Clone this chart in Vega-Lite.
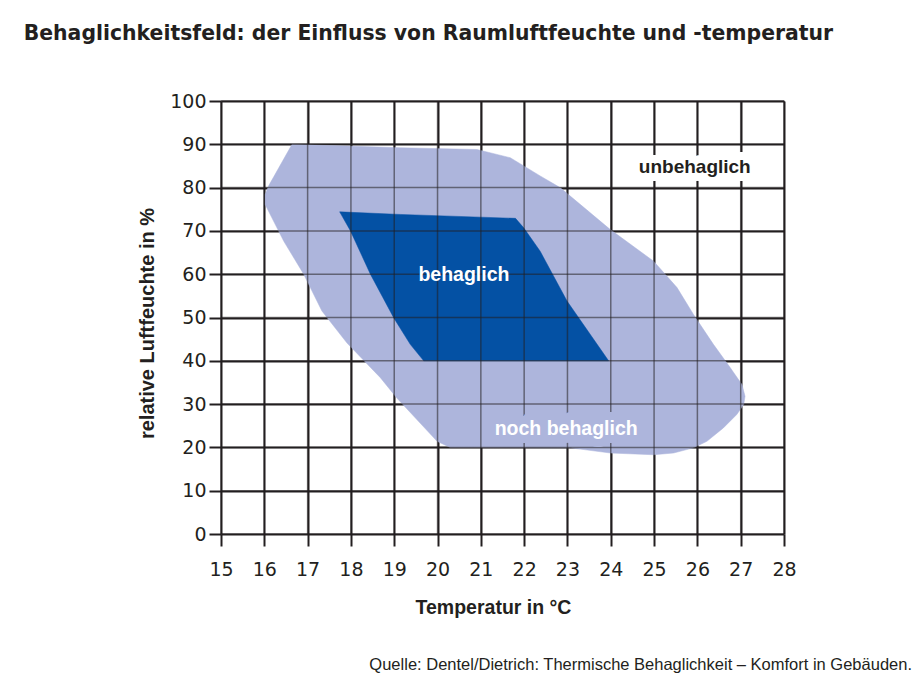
{
  "$schema": "https://vega.github.io/schema/vega-lite/v6.json",
  "background": "white",
  "padding": {"left": 23, "top": 23, "right": 0, "bottom": 0},
  "config": {"view": {"stroke": null}, "font": "Liberation Sans"},
  "title": {
    "text": "Behaglichkeitsfeld: der Einfluss von Raumluftfeuchte und -temperatur",
    "anchor": "start", "frame": "bounds", "dx": -114,
    "font": "DejaVu Sans", "fontSize": 20.4, "fontWeight": "bold", "color": "#231f20", "offset": 48
  },
  "datasets": {
    "noch": [
      {"i": 1, "t": 16.64, "h": 90.0}, {"i": 2, "t": 19.14, "h": 89.2}, {"i": 3, "t": 20.91, "h": 88.8},
      {"i": 4, "t": 21.68, "h": 86.9}, {"i": 5, "t": 22.37, "h": 82.7}, {"i": 6, "t": 22.83, "h": 80.0},
      {"i": 7, "t": 23.99, "h": 70.3}, {"i": 8, "t": 24.99, "h": 63.0}, {"i": 9, "t": 25.53, "h": 56.9},
      {"i": 10, "t": 25.91, "h": 50.7}, {"i": 11, "t": 26.37, "h": 43.8}, {"i": 12, "t": 26.76, "h": 38.4},
      {"i": 13, "t": 27.03, "h": 34.5}, {"i": 14, "t": 27.10, "h": 31.8}, {"i": 15, "t": 27.07, "h": 29.9},
      {"i": 16, "t": 26.91, "h": 27.6}, {"i": 17, "t": 26.60, "h": 24.5}, {"i": 18, "t": 26.22, "h": 21.4},
      {"i": 19, "t": 25.91, "h": 19.9}, {"i": 20, "t": 25.45, "h": 18.7}, {"i": 21, "t": 24.99, "h": 18.3},
      {"i": 22, "t": 23.99, "h": 18.7}, {"i": 23, "t": 23.07, "h": 19.9}, {"i": 24, "t": 20.29, "h": 20.0},
      {"i": 25, "t": 19.99, "h": 21.4}, {"i": 26, "t": 19.06, "h": 31.4}, {"i": 27, "t": 18.68, "h": 36.1},
      {"i": 28, "t": 17.91, "h": 44.1}, {"i": 29, "t": 17.33, "h": 51.5}, {"i": 30, "t": 16.91, "h": 60.0},
      {"i": 31, "t": 16.45, "h": 67.6}, {"i": 32, "t": 16.02, "h": 76.1}, {"i": 33, "t": 16.02, "h": 78.4},
      {"i": 34, "t": 16.10, "h": 80.4}
    ],
    "beh": [
      {"i": 1, "t": 17.74, "h": 74.4}, {"i": 2, "t": 19.14, "h": 73.8}, {"i": 3, "t": 21.80, "h": 72.9},
      {"i": 4, "t": 21.99, "h": 70.7}, {"i": 5, "t": 22.37, "h": 65.3}, {"i": 6, "t": 22.99, "h": 53.8},
      {"i": 7, "t": 23.95, "h": 40.0}, {"i": 8, "t": 19.68, "h": 40.0}, {"i": 9, "t": 19.37, "h": 43.8},
      {"i": 10, "t": 18.99, "h": 49.9}, {"i": 11, "t": 18.45, "h": 60.0}, {"i": 12, "t": 17.99, "h": 70.0}
    ],
    "gx": [
      {"t": 15}, {"t": 16}, {"t": 17}, {"t": 18}, {"t": 19}, {"t": 20}, {"t": 21},
      {"t": 22}, {"t": 23}, {"t": 24}, {"t": 25}, {"t": 26}, {"t": 27}, {"t": 28}
    ],
    "gy": [
      {"h": 0}, {"h": 10}, {"h": 20}, {"h": 30}, {"h": 40}, {"h": 50},
      {"h": 60}, {"h": 70}, {"h": 80}, {"h": 90}, {"h": 100}
    ]
  },
  "vconcat": [
    {
      "width": 563,
      "height": 433,
      "title": {
        "text": "Quelle: Dentel/Dietrich: Thermische Behaglichkeit – Komfort in Gebäuden.",
        "orient": "bottom", "anchor": "end", "frame": "group", "dx": 128,
        "font": "Liberation Sans", "fontSize": 16.5, "fontWeight": "normal", "color": "#231f20", "offset": 40
      },
      "encoding": {
        "x": {
          "field": "t", "type": "quantitative",
          "scale": {"domain": [15, 28], "nice": false, "zero": false},
          "axis": {
            "values": [15, 16, 17, 18, 19, 20, 21, 22, 23, 24, 25, 26, 27, 28],
            "grid": true, "gridColor": "#231f20", "gridWidth": 2, "gridOpacity": 1,
            "domain": false, "tickSize": 12, "tickWidth": 2, "tickColor": "#231f20",
            "labelFont": "DejaVu Sans", "labelFontSize": 19, "labelColor": "#231f20",
            "labelPadding": 14, "labelFlush": false, "labelOverlap": false,
            "title": "Temperatur in °C", "titleFont": "Liberation Sans", "titleFontSize": 19.5,
            "titleFontWeight": "bold", "titleColor": "#231f20", "titlePadding": 19, "titleX": 272
          }
        },
        "y": {
          "field": "h", "type": "quantitative",
          "scale": {"domain": [0, 100], "nice": false, "zero": false},
          "axis": {
            "values": [0, 10, 20, 30, 40, 50, 60, 70, 80, 90, 100],
            "grid": true, "gridColor": "#231f20", "gridWidth": 2, "gridOpacity": 1,
            "domain": false, "tickSize": 12, "tickWidth": 2, "tickColor": "#231f20",
            "labelFont": "DejaVu Sans", "labelFontSize": 19, "labelColor": "#231f20",
            "labelPadding": 3, "labelFlush": false, "labelOverlap": false,
            "title": "relative Luftfeuchte in %", "titleFont": "Liberation Sans", "titleFontSize": 20,
            "titleFontWeight": "bold", "titleColor": "#231f20", "titlePadding": 12, "titleY": 222
          }
        }
      },
      "layer": [
        {
          "data": {"name": "noch"},
          "mark": {"type": "line", "interpolate": "linear-closed", "fill": "#adb5dc", "stroke": "#adb5dc", "strokeWidth": 0.5},
          "encoding": {"order": {"field": "i", "type": "quantitative"}}
        },
        {
          "data": {"name": "beh"},
          "mark": {"type": "line", "interpolate": "linear-closed", "fill": "#0451a4", "stroke": "#0451a4", "strokeWidth": 0.5},
          "encoding": {"order": {"field": "i", "type": "quantitative"}}
        },
        {
          "data": {"name": "gx"},
          "mark": {"type": "rule", "color": "#231f20", "opacity": 0.55, "strokeWidth": 1.5},
          "encoding": {"x": {"field": "t", "type": "quantitative"}, "y": null}
        },
        {
          "data": {"name": "gy"},
          "mark": {"type": "rule", "color": "#231f20", "opacity": 0.55, "strokeWidth": 1.5},
          "encoding": {"y": {"field": "h", "type": "quantitative"}, "x": null}
        },
        {
          "data": {"values": [{"label": "unbehaglich", "t": 25.94, "h": 83.43}]},
          "mark": {"type": "text", "font": "Liberation Sans", "fontWeight": "bold", "fontSize": 19, "align": "center", "baseline": "alphabetic", "fill": "white", "stroke": "white", "strokeWidth": 16, "strokeJoin": "round"},
          "encoding": {"text": {"field": "label"}}
        },
        {
          "data": {"values": [{"label": "noch behaglich", "t": 22.97, "h": 22.97}]},
          "mark": {"type": "text", "font": "Liberation Sans", "fontWeight": "bold", "fontSize": 19.5, "align": "center", "baseline": "alphabetic", "fill": "#adb5dc", "stroke": "#adb5dc", "strokeWidth": 16, "strokeJoin": "round"},
          "encoding": {"text": {"field": "label"}}
        },
        {
          "data": {"values": [{"label": "unbehaglich", "t": 25.94, "h": 83.43}]},
          "mark": {"type": "text", "font": "Liberation Sans", "fontWeight": "bold", "fontSize": 19, "align": "center", "baseline": "alphabetic", "color": "#231f20"},
          "encoding": {"text": {"field": "label"}}
        },
        {
          "data": {"values": [{"label": "noch behaglich", "t": 22.97, "h": 22.97}, {"label": "behaglich", "t": 20.61, "h": 58.4}]},
          "mark": {"type": "text", "font": "Liberation Sans", "fontWeight": "bold", "fontSize": 19.5, "align": "center", "baseline": "alphabetic", "color": "white"},
          "encoding": {"text": {"field": "label"}}
        }
      ]
    }
  ]
}
